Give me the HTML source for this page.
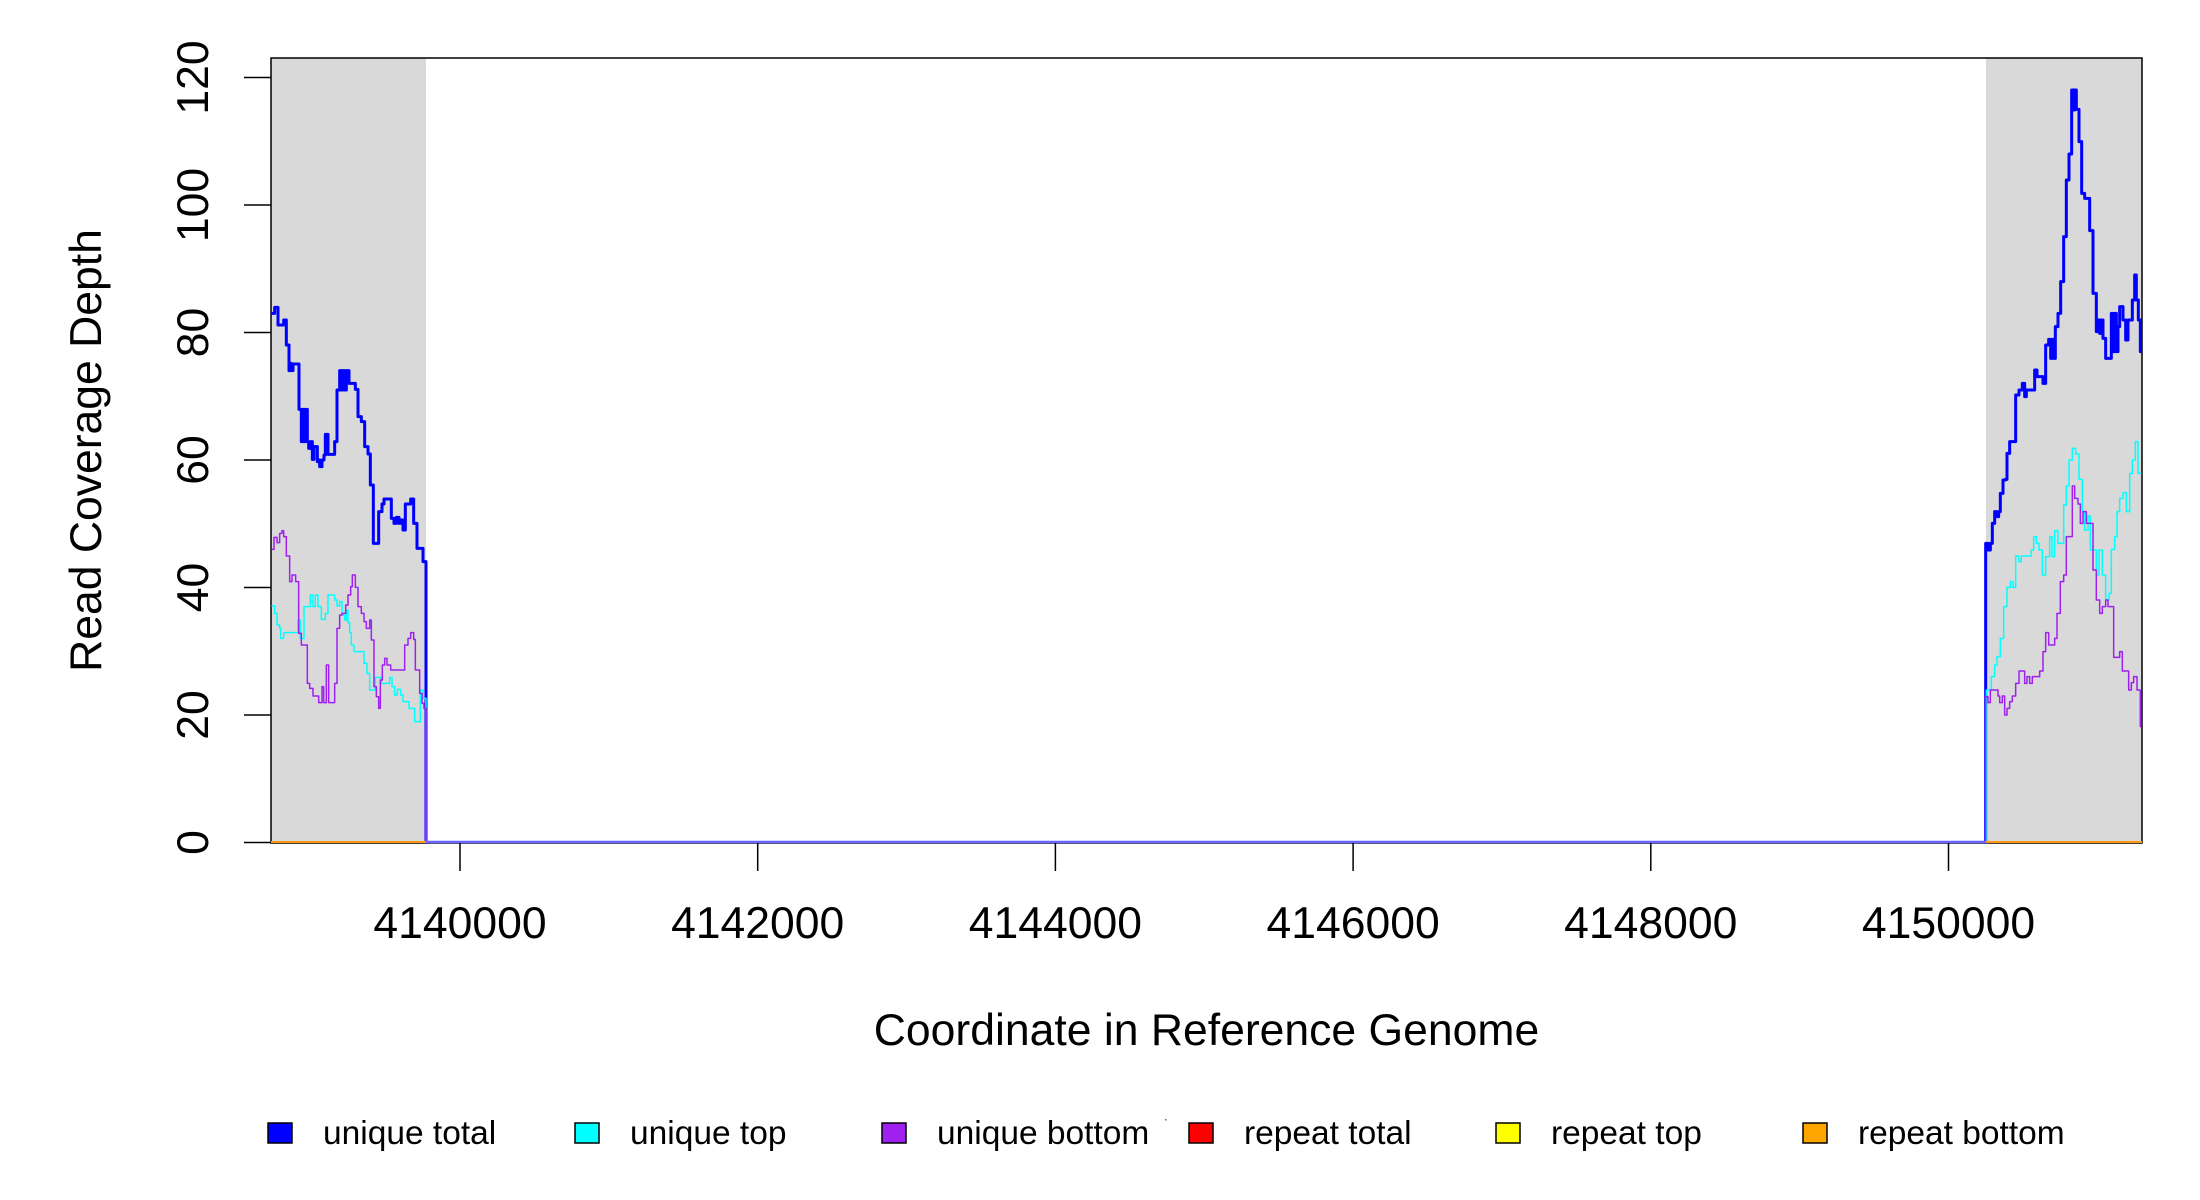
<!DOCTYPE html>
<html>
<head>
<meta charset="utf-8">
<style>
  html, body { margin: 0; padding: 0; background: #ffffff; }
  svg { display: block; }
  text { font-family: "Liberation Sans", Arial, sans-serif; fill: #000; }
</style>
</head>
<body>
<svg width="2200" height="1200" viewBox="0 0 2200 1200" xmlns="http://www.w3.org/2000/svg">
  <rect x="0" y="0" width="2200" height="1200" fill="#ffffff"/>

  <!-- gray shaded regions -->
  <rect x="271" y="58" width="155" height="785" fill="#d9d9d9"/>
  <rect x="1986" y="58" width="156" height="785" fill="#d9d9d9"/>

  <!-- plot box -->
  <rect x="271" y="58" width="1871" height="785" fill="none" stroke="#000" stroke-width="1.5"/>

  <!-- LEFT REGION series (zoom coords: translate(268,300) scale 1/3) -->
  <g transform="translate(268,300) scale(0.333333)" fill="none" stroke-linejoin="round" stroke-linecap="round">
    <path stroke="#0000ff" stroke-width="9" d="M12,40 H20 V22 H30 V75 H47 V60 H55 V135 H63 V212 H66 V190 H70 V212 H75 V192 H93 V328 H100 V425 H103 V328 H108 V425 H113 V328 H118 V425 H122 V445 H128 V425 H133 V478 H138 V440 H148 V485 H152 V480 H155 V500 H162 V480 H168 V465 H172 V403 H180 V463 H200 V425 H207 V270 H215 V212 H220 V270 H225 V212 H230 V270 H235 V212 H243 V250 H262 V268 H270 V350 H280 V365 H290 V440 H300 V462 H307 V555 H316 V730 H332 V635 H342 V612 H348 V597 H370 V655 H378 V670 H385 V652 H393 V670 H398 V660 H405 V690 H412 V612 H428 V597 H437 V670 H447 V745 H465 V785 H474 V1627"/>
    <path stroke="#00ffff" stroke-width="4.5" d="M12,918 H20 V940 H27 V975 H35 V985 H38 V1015 H47 V998 H90 V960 H97 V1015 H108 V920 H127 V885 H135 V920 H142 V885 H150 V920 H160 V958 H172 V940 H180 V885 H200 V900 H207 V918 H215 V905 H222 V945 H230 V960 H235 V930 H240 V968 H245 V998 H250 V1035 H258 V1055 H288 V1090 H297 V1120 H305 V1170 H322 V1132 H340 V1150 H365 V1132 H372 V1160 H380 V1185 H388 V1168 H398 V1185 H405 V1205 H423 V1225 H440 V1265 H457 V1170 H465 V1195 H474 V1627"/>
    <path stroke="#a020f0" stroke-width="4.5" d="M12,748 H18 V712 H27 V728 H35 V700 H42 V692 H47 V710 H55 V768 H65 V845 H72 V825 H83 V845 H92 V1000 H100 V1035 H118 V1150 H125 V1165 H135 V1188 H152 V1208 H162 V1160 H167 V1208 H175 V1095 H182 V1208 H200 V1150 H207 V985 H215 V945 H222 V940 H233 V915 H240 V885 H248 V860 H253 V825 H262 V862 H270 V920 H280 V940 H288 V965 H295 V985 H305 V960 H310 V1020 H318 V1160 H325 V1190 H332 V1225 H337 V1140 H343 V1095 H350 V1075 H357 V1095 H368 V1110 H410 V1035 H420 V1015 H428 V998 H437 V1018 H442 V1110 H455 V1180 H462 V1210 H468 V1225 H474 V1627"/>
  </g>

  <!-- RIGHT REGION blue (zoom9 coords: translate(1983,80) scale 1/3) -->
  <g transform="translate(1983,80) scale(0.333333)" fill="none" stroke-linejoin="round" stroke-linecap="round">
    <path stroke="#0000ff" stroke-width="9" d="M8,2287 V1390 H15 V1410 H22 V1390 H28 V1330 H35 V1295 H40 V1310 H47 V1295 H52 V1240 H60 V1200 H67 V1198 H72 V1120 H80 V1085 H98 V945 H108 V930 H118 V910 H125 V950 H130 V930 H155 V870 H162 V890 H180 V910 H188 V795 H197 V778 H203 V835 H208 V778 H213 V835 H217 V740 H225 V700 H233 V605 H242 V470 H250 V300 H258 V222 H266 V30 H272 V90 H275 V30 H280 V88 H288 V185 H296 V340 H305 V355 H320 V452 H330 V640 H340 V755 H345 V720 H350 V760 H355 V720 H360 V775 H368 V835 H385 V700 H390 V815 H395 V700 H400 V815 H405 V740 H410 V680 H420 V720 H428 V780 H435 V720 H448 V660 H455 V585 H460 V660 H466 V720 H472 V815"/>
  </g>

  <!-- RIGHT REGION cyan/purple (zoom10 coords: translate(1983,380) scale 1/3) -->
  <g transform="translate(1983,380) scale(0.333333)" fill="none" stroke-linejoin="round" stroke-linecap="round">
    <path stroke="#00ffff" stroke-width="4.5" d="M10,1387 V930 H25 V890 H35 V855 H42 V830 H52 V775 H62 V680 H72 V622 H82 V605 H90 V622 H98 V528 H108 V545 H115 V528 H145 V510 H152 V470 H160 V490 H168 V510 H178 V585 H188 V530 H200 V470 H207 V530 H215 V452 H225 V490 H242 V375 H250 V318 H258 V240 H268 V205 H278 V222 H288 V298 H298 V395 H305 V450 H315 V408 H322 V510 H340 V585 H348 V510 H358 V585 H368 V660 H378 V640 H385 V508 H395 V470 H402 V395 H410 V355 H420 V338 H430 V395 H440 V280 H448 V240 H457 V185 H465 V280 H474"/>
    <path stroke="#a020f0" stroke-width="4.5" d="M8,1387 V950 H15 V968 H22 V930 H45 V948 H50 V968 H58 V948 H65 V1005 H72 V985 H80 V965 H88 V948 H98 V910 H108 V873 H125 V910 H132 V890 H140 V910 H148 V890 H170 V873 H180 V815 H188 V758 H197 V795 H215 V775 H222 V700 H232 V605 H242 V585 H250 V470 H268 V318 H275 V355 H285 V372 H292 V430 H300 V395 H310 V430 H330 V570 H340 V660 H350 V700 H358 V680 H368 V660 H375 V680 H392 V832 H410 V815 H418 V873 H437 V930 H445 V908 H452 V890 H462 V930 H472 V1040"/>
  </g>

  <!-- zero lines drawn on top of box -->
  <line x1="426" y1="842" x2="1986" y2="842" stroke="#6b63ff" stroke-width="2.5"/>
  <line x1="271" y1="842" x2="426" y2="842" stroke="#ff9a10" stroke-width="2"/>
  <line x1="1986" y1="842" x2="2142" y2="842" stroke="#ff9a10" stroke-width="2"/>

  <!-- y axis ticks -->
  <g stroke="#000" stroke-width="1.5">
    <line x1="244" y1="842.5" x2="271" y2="842.5"/>
    <line x1="244" y1="715" x2="271" y2="715"/>
    <line x1="244" y1="587.5" x2="271" y2="587.5"/>
    <line x1="244" y1="460" x2="271" y2="460"/>
    <line x1="244" y1="332.5" x2="271" y2="332.5"/>
    <line x1="244" y1="205" x2="271" y2="205"/>
    <line x1="244" y1="77.5" x2="271" y2="77.5"/>
  </g>
  <g font-size="44.5" text-anchor="middle">
    <text transform="translate(208,842.5) rotate(-90)">0</text>
    <text transform="translate(208,715) rotate(-90)">20</text>
    <text transform="translate(208,587.5) rotate(-90)">40</text>
    <text transform="translate(208,460) rotate(-90)">60</text>
    <text transform="translate(208,332.5) rotate(-90)">80</text>
    <text transform="translate(208,205) rotate(-90)">100</text>
    <text transform="translate(208,77.5) rotate(-90)">120</text>
  </g>

  <!-- x axis ticks -->
  <g stroke="#000" stroke-width="1.5">
    <line x1="460" y1="843" x2="460" y2="871"/>
    <line x1="757.7" y1="843" x2="757.7" y2="871"/>
    <line x1="1055.4" y1="843" x2="1055.4" y2="871"/>
    <line x1="1353.1" y1="843" x2="1353.1" y2="871"/>
    <line x1="1650.8" y1="843" x2="1650.8" y2="871"/>
    <line x1="1948.5" y1="843" x2="1948.5" y2="871"/>
  </g>
  <g font-size="44.5" text-anchor="middle">
    <text x="460" y="938">4140000</text>
    <text x="757.7" y="938">4142000</text>
    <text x="1055.4" y="938">4144000</text>
    <text x="1353.1" y="938">4146000</text>
    <text x="1650.8" y="938">4148000</text>
    <text x="1948.5" y="938">4150000</text>
  </g>

  <!-- axis titles -->
  <text x="1206.5" y="1045" font-size="44.5" text-anchor="middle">Coordinate in Reference Genome</text>
  <text transform="translate(101,450.5) rotate(-90)" font-size="44.5" text-anchor="middle">Read Coverage Depth</text>

  <!-- legend -->
  <g stroke="#000" stroke-width="1.5">
    <rect x="268" y="1123" width="24" height="20" fill="#0000ff"/>
    <rect x="575" y="1123" width="24" height="20" fill="#00ffff"/>
    <rect x="882" y="1123" width="24" height="20" fill="#a020f0"/>
    <rect x="1189" y="1123" width="24" height="20" fill="#ff0000"/>
    <rect x="1496" y="1123" width="24" height="20" fill="#ffff00"/>
    <rect x="1803" y="1123" width="24" height="20" fill="#ffa500"/>
  </g>
  <g font-size="33.5">
    <text x="323" y="1144">unique total</text>
    <text x="630" y="1144">unique top</text>
    <text x="937" y="1144">unique bottom</text>
    <text x="1244" y="1144">repeat total</text>
    <text x="1551" y="1144">repeat top</text>
    <text x="1858" y="1144">repeat bottom</text>
  </g>
  <rect x="1165" y="1119" width="1.5" height="1.5" fill="#666"/>
</svg>
</body>
</html>
